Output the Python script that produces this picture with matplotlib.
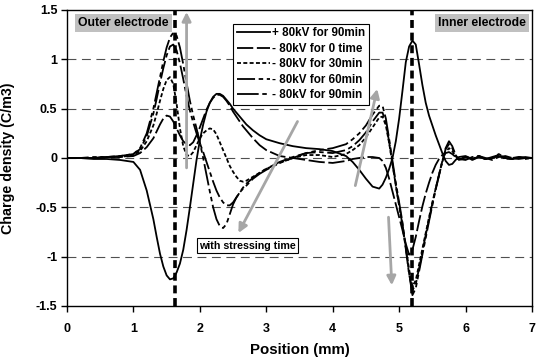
import matplotlib
matplotlib.use("Agg")
import matplotlib.pyplot as plt

plt.rcParams['font.family'] = ['Liberation Sans', 'DejaVu Sans']
plt.rcParams['font.weight'] = 'bold'

# Position grid (mm)
position = [0.0, 0.2, 0.4, 0.6, 0.8, 1.0, 1.1, 1.2,
            1.3, 1.35, 1.4, 1.45, 1.5, 1.55, 1.6, 1.65, 1.7, 1.75, 1.8, 1.85, 1.9, 1.95, 2.0,
            2.05, 2.1, 2.15, 2.2, 2.25, 2.3, 2.35, 2.4, 2.45, 2.5, 2.55, 2.6, 2.65, 2.7,
            2.8, 2.9, 3.0, 3.2, 3.4, 3.6, 3.8, 4.0, 4.2, 4.3, 4.4, 4.5, 4.6, 4.7,
            4.75, 4.8, 4.85, 4.9, 4.95, 5.0, 5.05, 5.1, 5.15, 5.2, 5.25, 5.3, 5.35, 5.4,
            5.45, 5.5, 5.55, 5.6, 5.65, 5.7, 5.75, 5.8, 5.85, 5.9,
            6.0, 6.1, 6.2, 6.3, 6.4, 6.5, 6.6, 6.7, 6.8, 6.9, 7.0]

pos80_90 = [0.0, 0.0, -0.01, -0.01, -0.02, -0.04, -0.12, -0.33,
            -0.62, -0.8, -0.97, -1.1, -1.19, -1.23, -1.22, -1.16, -1.07, -0.93, -0.73, -0.5, -0.26, -0.02, 0.18,
            0.34, 0.47, 0.56, 0.62, 0.65, 0.65, 0.63, 0.59, 0.55, 0.5, 0.46, 0.42, 0.38, 0.34,
            0.28, 0.23, 0.19, 0.15, 0.12, 0.1, 0.09, 0.07, 0.02, -0.04, -0.12, -0.21, -0.29, -0.31,
            -0.27, -0.2, -0.11, 0.0, 0.17, 0.4, 0.68, 0.97, 1.13, 1.19, 1.15, 0.95, 0.74, 0.56,
            0.43, 0.33, 0.23, 0.14, 0.05, -0.03, -0.07, -0.06, -0.02, 0.01,
            0.02, -0.01, 0.01, -0.01, 0.0, 0.02, 0.0, -0.01, 0.0, 0.01, 0.0]

neg80_0 = [0.0, 0.0, 0.0, 0.01, 0.01, 0.02, 0.05, 0.11,
           0.2, 0.27, 0.34, 0.4, 0.43, 0.42, 0.37, 0.3, 0.23, 0.17, 0.14, 0.13, 0.16, 0.23, 0.31,
           0.4, 0.49, 0.56, 0.61, 0.64, 0.64, 0.62, 0.58, 0.53, 0.47, 0.42, 0.37, 0.32, 0.28,
           0.2, 0.13, 0.08, 0.02, 0.0, -0.02, -0.04, -0.05, -0.03, -0.01, 0.0, 0.01, 0.01, 0.0,
           -0.03, -0.1, -0.21, -0.34, -0.47, -0.6, -0.73, -0.87, -0.98, -0.93, -0.8, -0.64, -0.49, -0.36,
           -0.25, -0.15, -0.07, -0.01, 0.03, 0.05, 0.06, 0.04, 0.01, -0.01,
           -0.02, 0.01, 0.02, 0.0, -0.02, 0.01, 0.02, 0.0, -0.01, 0.0, 0.0]

neg80_30 = [0.0, 0.0, 0.0, 0.01, 0.01, 0.03, 0.07, 0.17,
            0.33, 0.45, 0.58, 0.7, 0.79, 0.82, 0.75, 0.55, 0.3, 0.12, 0.03, 0.02, 0.06, 0.13, 0.2,
            0.25, 0.28, 0.3, 0.29, 0.24, 0.16, 0.08, 0.0, -0.08, -0.14, -0.19, -0.23, -0.24, -0.23,
            -0.19, -0.15, -0.11, -0.05, 0.0, 0.03, 0.03, 0.01, 0.04, 0.08, 0.13, 0.21, 0.31, 0.41,
            0.42, 0.33, 0.15, -0.06, -0.28, -0.48, -0.68, -0.9, -1.13, -1.3, -1.24, -1.08, -0.92, -0.76,
            -0.6, -0.45, -0.31, -0.17, -0.04, 0.06, 0.1, 0.07, 0.02, -0.02,
            0.01, -0.01, 0.02, -0.01, 0.0, 0.03, -0.01, 0.0, 0.01, -0.01, 0.0]

neg80_60 = [0.0, 0.0, 0.0, 0.01, 0.02, 0.04, 0.09, 0.22,
            0.45, 0.6, 0.76, 0.91, 1.04, 1.13, 1.15, 1.09, 0.96, 0.8, 0.63, 0.48, 0.36, 0.25, 0.15,
            0.06, -0.04, -0.14, -0.24, -0.33, -0.4, -0.45, -0.48, -0.48, -0.45, -0.4, -0.35, -0.3, -0.26,
            -0.2, -0.15, -0.11, -0.04, 0.01, 0.05, 0.06, 0.05, 0.08, 0.12, 0.18, 0.26, 0.37, 0.46,
            0.46, 0.36, 0.16, -0.06, -0.28, -0.48, -0.68, -0.92, -1.18, -1.34, -1.28, -1.12, -0.95, -0.78,
            -0.62, -0.46, -0.31, -0.17, -0.03, 0.09, 0.14, 0.1, 0.03, -0.02,
            0.01, -0.02, 0.01, -0.01, 0.01, 0.03, 0.0, -0.01, 0.01, 0.0, 0.0]

neg80_90 = [0.0, 0.0, 0.01, 0.01, 0.02, 0.04, 0.1, 0.25,
            0.5, 0.66, 0.82, 0.98, 1.12, 1.22, 1.27, 1.24, 1.12, 0.95, 0.76, 0.58, 0.43, 0.3, 0.16,
            0.0, -0.17, -0.34, -0.5, -0.62, -0.69, -0.71, -0.67, -0.57, -0.47, -0.4, -0.35, -0.31, -0.28,
            -0.21, -0.16, -0.12, -0.05, 0.0, 0.05, 0.08, 0.1, 0.14, 0.19, 0.25, 0.33, 0.44, 0.53,
            0.53, 0.4, 0.19, -0.03, -0.25, -0.45, -0.65, -0.9, -1.17, -1.39, -1.32, -1.15, -0.98, -0.81,
            -0.64, -0.48, -0.32, -0.18, -0.03, 0.1, 0.17, 0.12, 0.03, -0.03,
            0.02, -0.02, 0.02, -0.01, 0.0, 0.04, 0.0, -0.01, 0.01, 0.0, 0.0]

series_labels = ['+ 80kV for 90min', '- 80kV for 0 time', '- 80kV for 30min',
                 '- 80kV for 60min', '- 80kV for 90min']
series_values = [pos80_90, neg80_0, neg80_30, neg80_60, neg80_90]
series_styles = ['-', (0, (9, 2)), (0, (2.2, 1.3)), (0, (10, 2, 2.5, 2)), (0, (12, 2, 2.5, 2, 2.5, 2))]

x_ticks = [0, 1, 2, 3, 4, 5, 6, 7]
x_tick_labels = ['0', '1', '2', '3', '4', '5', '6', '7']
y_ticks = [-1.5, -1.0, -0.5, 0.0, 0.5, 1.0, 1.5]
y_tick_labels = ['-1.5', '-1', '-0.5', '0', '0.5', '1', '1.5']
electrodes = [1.63, 5.2]

fig = plt.figure(figsize=(5.37, 3.6), dpi=100)
ax = fig.add_axes([67 / 537, 1 - 306 / 360, 465 / 537, 296 / 360])

for yv in y_ticks[1:-1]:
    ax.axhline(yv, color='#505050', lw=0.8, ls=(0, (8, 5)), zorder=1)

for xe in electrodes:
    ax.axvline(xe, color='black', lw=2.6, ls=(0, (2.2, 1.3)), zorder=4)

for vals, lab, st in zip(series_values, series_labels, series_styles):
    ax.plot(position, vals, color='black', lw=1.3, ls=st, label=lab, zorder=3)

arrow_kw = dict(arrowstyle='-|>', color='#a6a6a6', lw=2.0, mutation_scale=13, shrinkA=0, shrinkB=0)
ax.annotate('', xy=(1.8, 1.48), xytext=(1.8, -0.1), arrowprops=arrow_kw, zorder=5)
ax.annotate('', xy=(2.58, -0.76), xytext=(3.47, 0.37), arrowprops=arrow_kw, zorder=5)
ax.annotate('', xy=(4.67, 0.7), xytext=(4.34, -0.28), arrowprops=arrow_kw, zorder=5)
ax.annotate('', xy=(4.89, -1.29), xytext=(4.84, -0.6), arrowprops=arrow_kw, zorder=5)

ax.text(0.85, 1.365, 'Outer electrode', ha='center', va='center', fontsize=8.8, fontweight='bold',
        bbox=dict(boxstyle='square,pad=0.25', fc='#c0c0c0', ec='none'), zorder=6)
ax.text(6.24, 1.365, 'Inner electrode', ha='center', va='center', fontsize=8.8, fontweight='bold',
        bbox=dict(boxstyle='square,pad=0.25', fc='#c0c0c0', ec='none'), zorder=6)
ax.text(2.71, -0.887, 'with stressing time', ha='center', va='center', fontsize=7.7, fontweight='bold',
        bbox=dict(boxstyle='square,pad=0.2', fc='white', ec='black', lw=0.8), zorder=6)

leg = ax.legend(loc='upper left', bbox_to_anchor=(0.357, 0.953), fontsize=8.4, frameon=True,
                fancybox=False, edgecolor='black', framealpha=1, borderpad=0.3, handlelength=2.9,
                handletextpad=0.15, labelspacing=0.3, borderaxespad=0)
leg.get_frame().set_linewidth(0.8)
leg.set_zorder(7)

ax.set_xlim(0, 7)
ax.set_ylim(-1.5, 1.5)
ax.set_xticks(x_ticks)
ax.set_xticklabels(x_tick_labels, fontsize=9, fontweight='bold')
ax.set_yticks(y_ticks)
ax.set_yticklabels(y_tick_labels, fontsize=9, fontweight='bold')
ax.tick_params(axis='x', direction='out', length=4, width=1, pad=8)
ax.tick_params(axis='y', direction='out', length=4, width=1, pad=3)
for sp in ax.spines.values():
    sp.set_linewidth(1.0)

ax.set_xlabel('Position (mm)', fontsize=10.8, fontweight='bold')
ax.set_ylabel('Charge density (C/m3)', fontsize=10.3, fontweight='bold')
ax.xaxis.set_label_coords(0.5, -0.125)
ax.yaxis.set_label_coords(-0.112, 0.5)

fig.savefig('out.png', dpi=100)
